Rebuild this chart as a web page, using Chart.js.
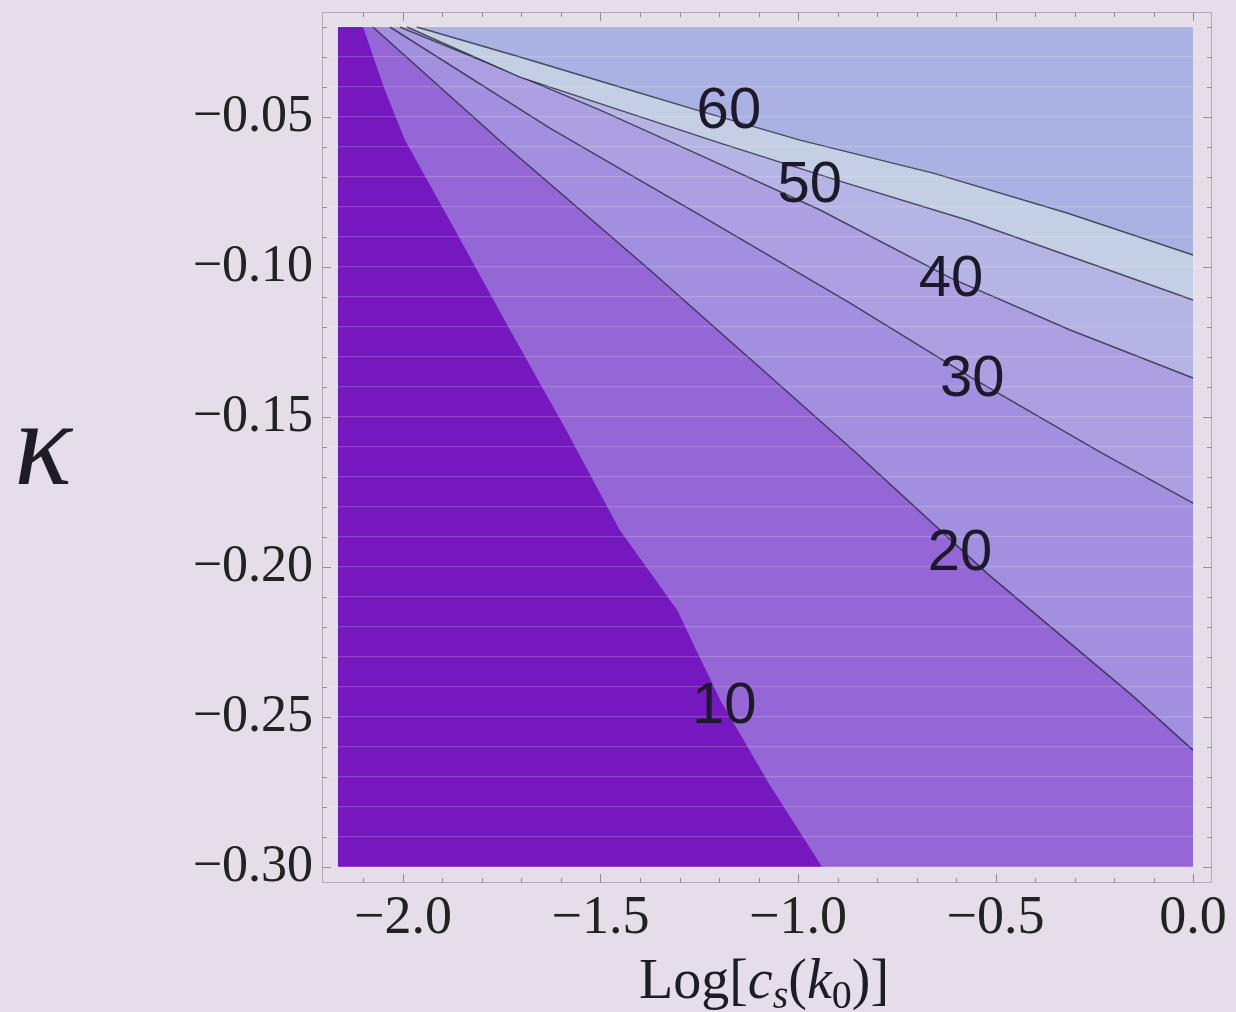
<!DOCTYPE html>
<html><head><meta charset="utf-8">
<script src="https://cdn.jsdelivr.net/npm/chart.js@4.4.1/dist/chart.umd.min.js"></script>
<style>html,body{margin:0;padding:0;background:#e5dde7;}canvas{display:block;}</style>
</head><body>
<canvas id="c" width="1236" height="1012"></canvas>
<script>
// ---- data ----
const xRange = [-2.165, 0.0];          // Log[c_s(k0)] extent of the plotted field
const yRange = [-0.30, -0.02];         // kappa extent of the plotted field
const xTickValues = [-2.0, -1.5, -1.0, -0.5, 0.0];
const yTickValues = [-0.30, -0.25, -0.20, -0.15, -0.10, -0.05];
const contourLevels = [10, 20, 30, 40, 50, 60];

const c10x = [-2.101, -2.046, -1.995, -1.868, -1.729, -1.587, -1.451, -1.306, -1.197, -1.071, -0.939, 0.0];
const c10y = [-0.020, -0.041, -0.0577, -0.0877, -0.121, -0.1543, -0.1877, -0.2143, -0.2443, -0.2727, -0.300, -0.300];
const c20x = [-2.076, -1.754, -1.375, -0.861, -0.522, -0.152, 0.0];
const c20y = [-0.020, -0.058, -0.101, -0.161, -0.202, -0.243, -0.261];
const c30x = [-2.033, -1.628, -1.248, -0.868, -0.559, -0.235, 0.0];
const c30y = [-0.020, -0.0537, -0.0827, -0.112, -0.137, -0.1617, -0.1787];
const c40x = [-2.008, -1.754, -1.501, -1.248, -0.944, -0.613, -0.311, 0.0];
const c40y = [-0.020, -0.0337, -0.0477, -0.0627, -0.081, -0.1037, -0.121, -0.137];
const c50x = [-1.990, -1.704, -1.451, -1.197, -0.886, -0.572, -0.235, 0.0];
const c50y = [-0.020, -0.0367, -0.0477, -0.0587, -0.0717, -0.0843, -0.100, -0.111];
const c60x = [-1.965, -1.704, -1.451, -1.256, -0.995, -0.658, -0.319, 0.0];
const c60y = [-0.020, -0.030, -0.040, -0.0477, -0.0577, -0.0687, -0.082, -0.096];

const labelText = ['60', '50', '40', '30', '20', '10'];
const labelX = [-1.175, -0.970, -0.613, -0.559, -0.590, -1.187];
const labelY = [-0.0477, -0.0723, -0.1037, -0.137, -0.195, -0.246];

const xTitle = ['Log[', 'c', 's', '(', 'k', '0', ')]'];
const yTitle = 'κ';

// ---- styles ----
const bandColors = ['rgb(118,24,192)', 'rgb(149,102,213)', 'rgb(163,143,223)', 'rgb(172,160,227)',
                    'rgb(182,180,228)', 'rgb(196,206,228)', 'rgb(171,177,227)'];
const lineColor = 'rgba(35,35,55,0.75)';
const frameColor = 'rgb(180,170,182)';

function ds(xs, ys, color, order, stroke) {
  return {
    data: xs.map((x, i) => ({x: x, y: ys[i]})),
    showLine: true, tension: 0, pointRadius: 0, pointHoverRadius: 0,
    fill: {value: yRange[1]},
    backgroundColor: color,
    borderColor: stroke ? lineColor : 'rgba(0,0,0,0)',
    borderWidth: stroke ? 1.5 : 0,
    order: order
  };
}

const contourX = [c10x, c20x, c30x, c40x, c50x, c60x];
const contourY = [c10y, c20y, c30y, c40y, c50y, c60y];
const datasets = [ds([xRange[0], xRange[1]], [yRange[0], yRange[0]], bandColors[0], 7, false)];
contourLevels.forEach((lv, i) => {
  datasets.push(ds(contourX[i], contourY[i], bandColors[i + 1], 6 - i, i > 0));
});

const fmt = (v, d) => { const s = Math.abs(v) < 1e-9 ? (0).toFixed(d) : v.toFixed(d); return s.replace('-', '\u2212'); };

const bgPlugin = {
  id: 'bg',
  beforeDraw(chart) {
    const ctx = chart.ctx; ctx.save(); ctx.fillStyle = '#e5dde7';
    ctx.fillRect(0, 0, chart.width, chart.height); ctx.restore();
  }
};

const framePlugin = {
  id: 'frame',
  afterDraw(chart) {
    const ctx = chart.ctx, a = chart.chartArea, xs = chart.scales.x, ys = chart.scales.y;
    ctx.save();
    ctx.strokeStyle = frameColor; ctx.lineWidth = 1;
    ctx.strokeRect(a.left + 0.5, a.top + 0.5, a.right - a.left - 1, a.bottom - a.top - 1);
    ctx.strokeStyle = 'rgb(150,140,152)';
    ctx.beginPath();
    for (let k = -21; k <= 0; k++) {
      const v = k / 10, px = Math.round(xs.getPixelForValue(v)) + 0.5;
      const len = (k % 5 === 0) ? 9 : 5;
      ctx.moveTo(px, a.bottom); ctx.lineTo(px, a.bottom - len);
      ctx.moveTo(px, a.top); ctx.lineTo(px, a.top + len);
    }
    for (let k = -30; k <= -2; k++) {
      const v = k / 100, py = Math.round(ys.getPixelForValue(v)) + 0.5;
      const len = (k % 5 === 0) ? 9 : 5;
      ctx.moveTo(a.left, py); ctx.lineTo(a.left + len, py);
      ctx.moveTo(a.right, py); ctx.lineTo(a.right - len, py);
    }
    ctx.stroke();
    // contour labels
    ctx.fillStyle = '#1c1a2a';
    ctx.font = '58px "Liberation Sans", Arial, sans-serif';
    ctx.textAlign = 'center'; ctx.textBaseline = 'middle';
    labelText.forEach((t, i) => {
      ctx.fillText(t, xs.getPixelForValue(labelX[i]), ys.getPixelForValue(labelY[i]) + 2);
    });
    // axis titles
    ctx.fillStyle = '#1e1c24';
    ctx.font = 'italic 120px "Liberation Serif", serif';
    ctx.textAlign = 'center'; ctx.textBaseline = 'alphabetic';
    ctx.fillText(yTitle, 43, 484);
    const base = 998, fs = 56, sub = 40;
    const fonts = [`${fs}px "Liberation Serif", serif`, `italic ${fs}px "Liberation Serif", serif`, `italic ${sub}px "Liberation Serif", serif`,
                   `${fs}px "Liberation Serif", serif`, `italic ${fs}px "Liberation Serif", serif`, `${sub}px "Liberation Serif", serif`, `${fs}px "Liberation Serif", serif`];
    const offs = [0, 0, 10, 0, 0, 10, 0];
    let widths = xTitle.map((t, i) => { ctx.font = fonts[i]; return ctx.measureText(t).width; });
    let total = widths.reduce((s, w) => s + w, 0);
    let x = 764 - total / 2;
    ctx.textAlign = 'left';
    xTitle.forEach((t, i) => { ctx.font = fonts[i]; ctx.fillText(t, x, base + offs[i]); x += widths[i]; });
    ctx.restore();
  }
};

const noPad = s => { s.paddingTop = 0; s.paddingBottom = 0; s.paddingLeft = 0; s.paddingRight = 0; };

new Chart(document.getElementById('c'), {
  type: 'scatter',
  data: {datasets: datasets},
  options: {
    responsive: false, animation: false, events: [],
    layout: {padding: {top: 12, right: 24, left: 0, bottom: 0}},
    plugins: {legend: {display: false}, tooltip: {enabled: false}, filler: {propagate: false}},
    scales: {
      x: {
        type: 'linear', min: -2.205, max: 0.048,
        afterBuildTicks: s => { s.ticks = xTickValues.map(v => ({value: v})); },
        afterFit: s => { s.height = 129; noPad(s); },
        grid: {display: false, drawTicks: false},
        border: {display: false},
        ticks: {padding: 3, color: '#222', font: {family: '"Liberation Serif", serif', size: 54},
                callback: v => fmt(v, 1), autoSkip: false, maxRotation: 0}
      },
      y: {
        type: 'linear', min: -0.3053, max: -0.015,
        afterBuildTicks: s => {
          const t = [];
          for (let k = -30; k <= -2; k++) t.push({value: k / 100});
          s.ticks = t;
        },
        afterFit: s => { s.width = 322; noPad(s); },
        grid: {display: true, drawTicks: false, color: 'rgba(255,255,255,0.18)', lineWidth: 1.2, z: 1},
        border: {display: false},
        ticks: {padding: 9, color: '#222', font: {family: '"Liberation Serif", serif', size: 52}, autoSkip: false,
                callback: v => (yTickValues.some(t => Math.abs(t - v) < 1e-6) ? fmt(v, 2) : '')}
      }
    }
  },
  plugins: [bgPlugin, framePlugin]
});
</script>
</body></html>
